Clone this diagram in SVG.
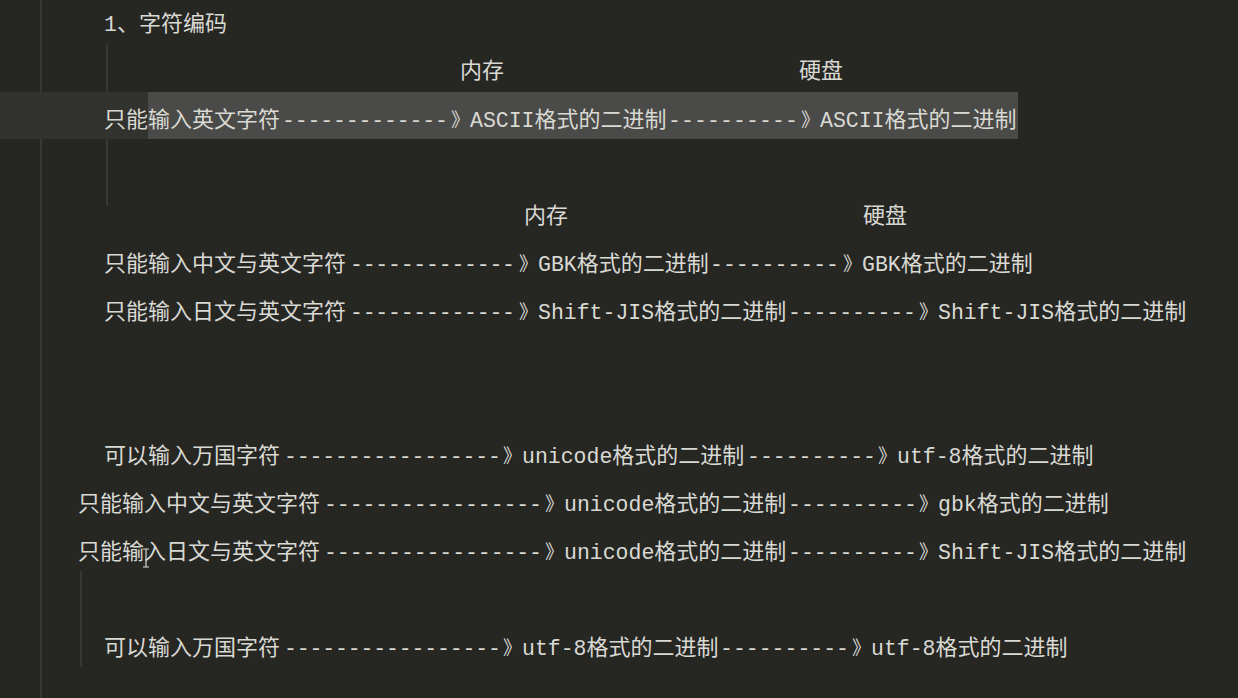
<svg xmlns="http://www.w3.org/2000/svg" width="1238" height="698" viewBox="0 0 1238 698">
<style>
text{fill:#d9d9d3;}
.c{font-family:"Noto Sans CJK SC","Noto Sans CJK JP",sans-serif;font-size:22px;}
.m{font-family:"Liberation Mono","DejaVu Sans Mono",monospace;font-size:21.5px;}
.d{font-family:"Liberation Mono","DejaVu Sans Mono",monospace;font-size:21.5px;}
.a{font-family:"Noto Sans CJK SC","Noto Sans CJK JP",sans-serif;font-size:19px;}
.guide{stroke:#3e3e3b;stroke-width:1.5;}
</style>
<rect width="1238" height="698" fill="#262623"/>
<line class="guide" x1="41" y1="0" x2="41" y2="698"/>
<line class="guide" x1="107" y1="44" x2="107" y2="206"/>
<line class="guide" x1="81" y1="571" x2="81" y2="667"/>
<rect x="0" y="92" width="148" height="47" fill="#32322e"/>
<rect x="148" y="92" width="870" height="47" fill="#4a4a48"/>

<g id="title"><text x="104" y="31"><tspan class="m">1</tspan><tspan class="c">、字符编码</tspan></text></g>

<g id="hdr1">
<text class="c" x="460" y="78">内存</text>
<text class="c" x="799" y="78">硬盘</text>
</g>
<g id="line-ascii">
<text class="c" x="104" y="127">只能输入英文字符</text>
<text x="451" y="127"><tspan class="a">》</tspan><tspan class="m">ASCII</tspan><tspan class="c">格式的二进制</tspan></text>
<text x="801" y="127"><tspan class="a">》</tspan><tspan class="m">ASCII</tspan><tspan class="c">格式的二进制</tspan></text>
</g>

<g id="hdr2">
<text class="c" x="524" y="223">内存</text>
<text class="c" x="863" y="223">硬盘</text>
</g>
<g id="line-gbk">
<text class="c" x="104" y="271">只能输入中文与英文字符</text>
<text x="519" y="271"><tspan class="a">》</tspan><tspan class="m">GBK</tspan><tspan class="c">格式的二进制</tspan></text>
<text x="843" y="271"><tspan class="a">》</tspan><tspan class="m">GBK</tspan><tspan class="c">格式的二进制</tspan></text>
</g>
<g id="line-sjis">
<text class="c" x="104" y="319">只能输入日文与英文字符</text>
<text x="519" y="319"><tspan class="a">》</tspan><tspan class="m">Shift-JIS</tspan><tspan class="c">格式的二进制</tspan></text>
<text x="919" y="319"><tspan class="a">》</tspan><tspan class="m">Shift-JIS</tspan><tspan class="c">格式的二进制</tspan></text>
</g>

<g id="line-uni1">
<text class="c" x="104" y="463">可以输入万国字符</text>
<text x="503" y="463"><tspan class="a">》</tspan><tspan class="m">unicode</tspan><tspan class="c">格式的二进制</tspan></text>
<text x="878" y="463"><tspan class="a">》</tspan><tspan class="m">utf-8</tspan><tspan class="c">格式的二进制</tspan></text>
</g>
<g id="line-uni2">
<text class="c" x="78" y="511">只能输入中文与英文字符</text>
<text x="545" y="511"><tspan class="a">》</tspan><tspan class="m">unicode</tspan><tspan class="c">格式的二进制</tspan></text>
<text x="919" y="511"><tspan class="a">》</tspan><tspan class="m">gbk</tspan><tspan class="c">格式的二进制</tspan></text>
</g>
<g id="line-uni3">
<text class="c" x="78" y="559">只能输入日文与英文字符</text>
<text x="545" y="559"><tspan class="a">》</tspan><tspan class="m">unicode</tspan><tspan class="c">格式的二进制</tspan></text>
<text x="919" y="559"><tspan class="a">》</tspan><tspan class="m">Shift-JIS</tspan><tspan class="c">格式的二进制</tspan></text>
</g>
<g id="line-utf8">
<text class="c" x="104" y="655">可以输入万国字符</text>
<text x="503" y="655"><tspan class="a">》</tspan><tspan class="m">utf-8</tspan><tspan class="c">格式的二进制</tspan></text>
<text x="852" y="655"><tspan class="a">》</tspan><tspan class="m">utf-8</tspan><tspan class="c">格式的二进制</tspan></text>
</g>

<g id="connectors">
<text class="d" x="282" y="127" textLength="166" lengthAdjust="spacing">-------------</text>
<text class="d" x="668" y="127" textLength="130" lengthAdjust="spacing">----------</text>
<text class="d" x="350" y="271" textLength="165" lengthAdjust="spacing">-------------</text>
<text class="d" x="710" y="271" textLength="129" lengthAdjust="spacing">----------</text>
<text class="d" x="350" y="319" textLength="165" lengthAdjust="spacing">-------------</text>
<text class="d" x="788" y="319" textLength="128" lengthAdjust="spacing">----------</text>
<text class="d" x="284" y="463" textLength="217" lengthAdjust="spacing">-----------------</text>
<text class="d" x="747" y="463" textLength="129" lengthAdjust="spacing">----------</text>
<text class="d" x="324" y="511" textLength="218" lengthAdjust="spacing">-----------------</text>
<text class="d" x="788" y="511" textLength="129" lengthAdjust="spacing">----------</text>
<text class="d" x="324" y="559" textLength="218" lengthAdjust="spacing">-----------------</text>
<text class="d" x="788" y="559" textLength="129" lengthAdjust="spacing">----------</text>
<text class="d" x="284" y="655" textLength="217" lengthAdjust="spacing">-----------------</text>
<text class="d" x="720" y="655" textLength="129" lengthAdjust="spacing">----------</text>
</g>

<g id="cursor" stroke="#d9d9d3" stroke-width="1.2" fill="none">
<path d="M143 549 H149 M146 549 V567 M143 567 H149"/>
</g>
</svg>
